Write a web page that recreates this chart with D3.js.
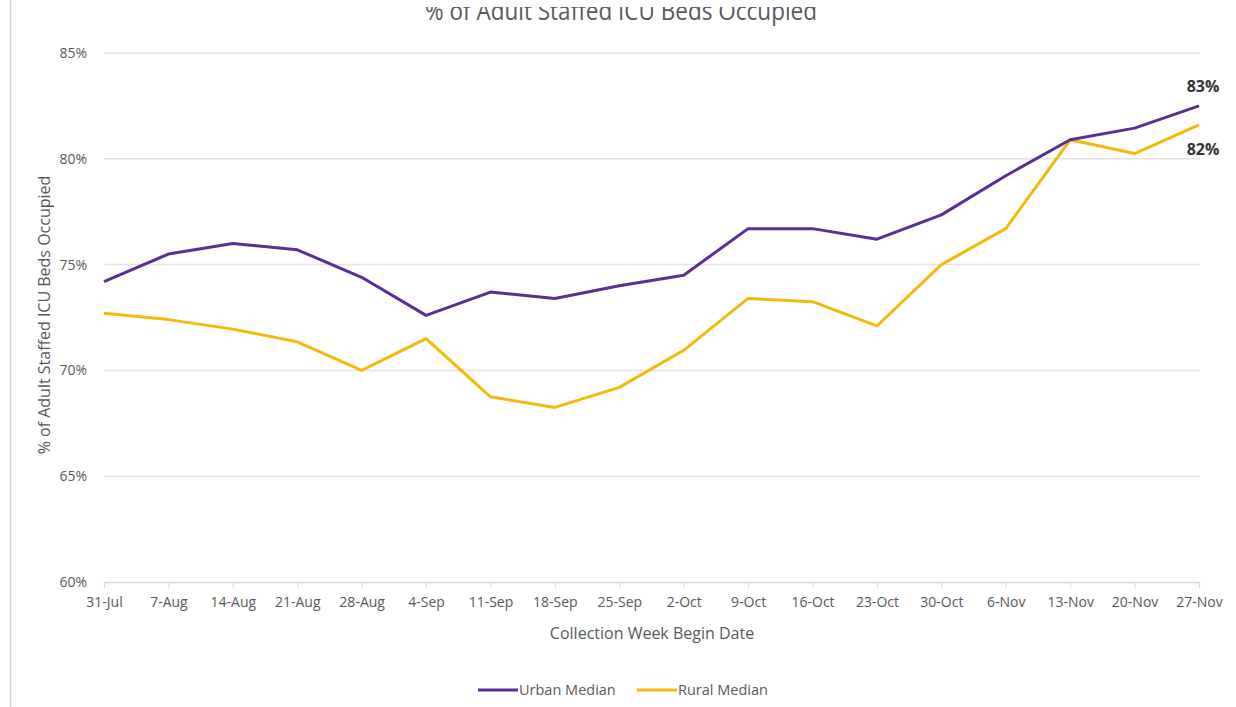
<!DOCTYPE html>
<html>
<head>
<meta charset="utf-8">
<script src="https://cdn.jsdelivr.net/npm/d3@7"></script>
<style>
  body { margin: 0; background: #fff; }
  svg text { font-family: "Open Sans", "Liberation Sans", sans-serif; }
</style>
</head>
<body>
<svg id="chart" width="1236" height="707"></svg>
<script>
// week labels along the x axis
var weeks = ["31-Jul", "7-Aug", "14-Aug", "21-Aug", "28-Aug", "4-Sep", "11-Sep", "18-Sep", "25-Sep",
  "2-Oct", "9-Oct", "16-Oct", "23-Oct", "30-Oct", "6-Nov", "13-Nov", "20-Nov", "27-Nov"];

// median % of adult staffed ICU beds occupied
var urbanMedian = [74.2, 75.5, 76.0, 75.7, 74.4, 72.6, 73.7, 73.4, 74.0,
  74.5, 76.7, 76.7, 76.2, 77.35, 79.2, 80.9, 81.45, 82.5];
var ruralMedian = [72.7, 72.4, 71.95, 71.35, 70.0, 71.5, 68.75, 68.25, 69.2,
  70.95, 73.4, 73.25, 72.1, 75.0, 76.7, 80.9, 80.25, 81.6];

var yTicks = [60, 65, 70, 75, 80, 85];
var endLabels = ["83%", "82%"];

var svg = d3.select("#chart");
var margin = {top: 53, left: 104, right: 1199, bottom: 582};

// left border of the original screenshot
svg.append("line")
  .attr("x1", 10.5).attr("x2", 10.5).attr("y1", 0).attr("y2", 707)
  .style("stroke", "#d0d4dc").style("stroke-width", 1.5);

var x = d3.scalePoint().domain(weeks).range([margin.left, margin.right]);
var y = d3.scaleLinear().domain([60, 85]).range([margin.bottom, margin.top]);

// gridlines
svg.append("g").selectAll("line")
  .data(yTicks.slice(1))
  .enter().append("line")
  .attr("x1", margin.left).attr("x2", margin.right + 1)
  .attr("y1", function(d) { return y(d); })
  .attr("y2", function(d) { return y(d); })
  .style("stroke", "#e3e3e3").style("stroke-width", 1.5);

// y tick labels
svg.append("g").selectAll("text")
  .data(yTicks)
  .enter().append("text")
  .attr("x", 87)
  .attr("y", function(d) { return y(d) + 5; })
  .attr("text-anchor", "end")
  .style("font-size", "14px").style("fill", "#595959")
  .text(function(d) { return d + "%"; });

// x axis
var xAxis = svg.append("g")
  .attr("transform", "translate(0," + margin.bottom + ")")
  .call(d3.axisBottom(x).tickSize(6).tickPadding(9));
xAxis.select(".domain").style("stroke", "#d9d9d9").style("stroke-width", 1.5);
xAxis.selectAll(".tick line").style("stroke", "#d9d9d9");
xAxis.selectAll("text")
  .style("font-size", "14px").style("fill", "#595959")
  .style("font-family", "\"Open Sans\", sans-serif");

// lines
var line = d3.line()
  .x(function(d, i) { return x(weeks[i]); })
  .y(function(d) { return y(d); });

svg.append("path").datum(ruralMedian)
  .attr("d", line)
  .style("fill", "none").style("stroke", "#f5b90a").style("stroke-width", 3)
  .style("stroke-linejoin", "round");

svg.append("path").datum(urbanMedian)
  .attr("d", line)
  .style("fill", "none").style("stroke", "#5b2e94").style("stroke-width", 3)
  .style("stroke-linejoin", "round");

// end value labels
var lastX = x(weeks[weeks.length - 1]) + 4;
svg.append("text")
  .attr("x", lastX).attr("y", y(urbanMedian[urbanMedian.length - 1]) - 14)
  .attr("text-anchor", "middle")
  .style("font-size", "16px").style("font-weight", "bold").style("fill", "#333")
  .text(endLabels[0]);
svg.append("text")
  .attr("x", lastX).attr("y", y(ruralMedian[ruralMedian.length - 1]) + 30)
  .attr("text-anchor", "middle")
  .style("font-size", "16px").style("font-weight", "bold").style("fill", "#333")
  .text(endLabels[1]);

// title, its top cut off like in the original screenshot
svg.append("clipPath").attr("id", "titleClip")
  .append("rect").attr("x", 0).attr("y", 7).attr("width", 1236).attr("height", 30);
svg.append("text")
  .attr("clip-path", "url(#titleClip)")
  .attr("x", 425).attr("y", 20)
  .attr("textLength", 392).attr("lengthAdjust", "spacingAndGlyphs")
  .style("font-size", "25px").style("fill", "#595959")
  .text("% of Adult Staffed ICU Beds Occupied");

// axis titles
svg.append("text")
  .attr("transform", "translate(50,315) rotate(-90)")
  .attr("text-anchor", "middle")
  .style("font-size", "16px").style("fill", "#595959")
  .text("% of Adult Staffed ICU Beds Occupied");

svg.append("text")
  .attr("x", 652).attr("y", 639)
  .attr("text-anchor", "middle")
  .style("font-size", "16px").style("fill", "#595959")
  .text("Collection Week Begin Date");

// legend
var legendItems = [
  {name: "Urban Median", color: "#5b2e94", x: 478},
  {name: "Rural Median", color: "#f5b90a", x: 637}
];
var legend = svg.append("g").selectAll("g")
  .data(legendItems)
  .enter().append("g")
  .attr("transform", function(d) { return "translate(" + d.x + ",690)"; });
legend.append("line")
  .attr("x1", 0).attr("x2", 40).attr("y1", 0).attr("y2", 0)
  .style("stroke", function(d) { return d.color; }).style("stroke-width", 3);
legend.append("text")
  .attr("x", 41).attr("y", 5)
  .style("font-size", "14.5px").style("fill", "#595959")
  .text(function(d) { return d.name; });
</script>
</body>
</html>
